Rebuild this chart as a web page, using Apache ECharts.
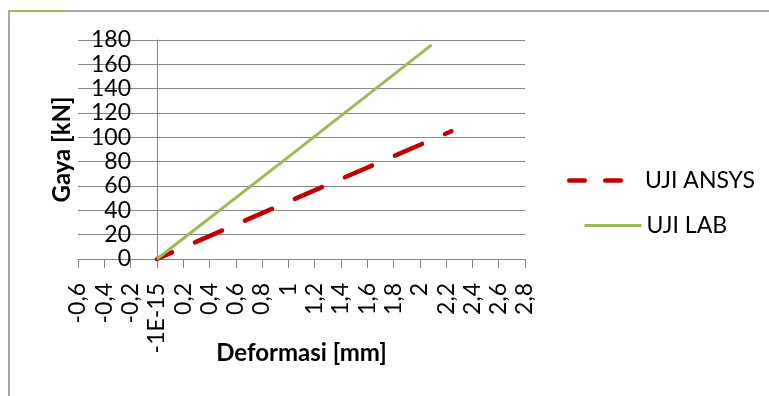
<!DOCTYPE html>
<html>
<head>
<meta charset="utf-8">
<script src="https://cdn.jsdelivr.net/npm/echarts@6/dist/echarts.min.js"></script>
<style>
  html, body { margin: 0; padding: 0; background: #fff; }
  #chart { width: 769px; height: 396px; }
</style>
</head>
<body>
<div id="chart"></div>
<script>
// values
const ansysX = [0, 1.12, 2.24]
const ansysY = [0, 52.7, 105]
const labX = [0, 1.05, 2.09]
const labY = [0, 88, 176]
const xTickLabels = ['-0,6', '-0,4', '-0,2', '-1E-15', '0,2', '0,4', '0,6', '0,8', '1',
  '1,2', '1,4', '1,6', '1,8', '2', '2,2', '2,4', '2,6', '2,8']
const xMin = -0.6
const xStep = 0.2

const font = 'Lato, "Open Sans", sans-serif'
const gray = '#868686'
// two rounded dashes for the ANSYS legend key
const dashIcon = 'path://M2.25,0 L17.75,0 A2.25,2.25 0 0 1 17.75,4.5 L2.25,4.5 A2.25,2.25 0 0 1 2.25,0 Z ' +
  'M38.25,0 L53.75,0 A2.25,2.25 0 0 1 53.75,4.5 L38.25,4.5 A2.25,2.25 0 0 1 38.25,0 Z'

const chart = echarts.init(document.getElementById('chart'), null, { renderer: 'canvas' })

const pairs = (xs, ys) => xs.map((x, i) => [x, ys[i]])

const option = {
  animation: false,
  backgroundColor: '#fff',
  textStyle: { fontFamily: font },
  graphic: [
    {
      type: 'rect',
      shape: { x: 9, y: 11, width: 800, height: 420 },
      style: { fill: 'none', stroke: '#8c8c8c', lineWidth: 1.5 }
    },
    {
      type: 'line',
      shape: { x1: 9, y1: 11, x2: 66, y2: 11 },
      style: { stroke: '#9bbb59', lineWidth: 2 }
    }
  ],
  grid: { left: 78, right: 244, top: 40, bottom: 137, outerBoundsMode: 'none', containLabel: false },
  legend: [
    {
      data: [{ name: 'UJI ANSYS', icon: dashIcon }],
      left: 567,
      top: 169,
      padding: 0,
      itemWidth: 56,
      itemHeight: 4.5,
      itemStyle: { color: '#c00000', borderWidth: 0 },
      textStyle: { fontFamily: font, fontSize: 23, color: '#000', padding: [0, 0, 0, 17] }
    },
    {
      data: ['UJI LAB'],
      left: 583,
      top: 214,
      padding: 0,
      itemWidth: 57,
      itemHeight: 24,
      itemStyle: { opacity: 0 },
      lineStyle: { width: 3 },
      textStyle: { fontFamily: font, fontSize: 23, color: '#000' }
    }
  ],
  xAxis: {
    type: 'value',
    min: xMin,
    max: 2.8,
    interval: xStep,
    name: 'Deformasi [mm]',
    nameLocation: 'middle',
    nameGap: 82,
    nameMoveOverlap: false,
    nameTextStyle: { fontFamily: font, fontSize: 24, fontWeight: 'bold', color: '#000' },
    axisLine: { show: true, lineStyle: { color: gray, width: 1 } },
    axisTick: { show: true, length: 9, lineStyle: { color: gray } },
    splitLine: { show: false },
    axisLabel: {
      rotate: 90,
      margin: 24,
      fontFamily: font,
      fontSize: 23,
      color: '#000',
      showMinLabel: true,
      showMaxLabel: true,
      formatter: v => xTickLabels[Math.round((v - xMin) / xStep)]
    }
  },
  yAxis: {
    type: 'value',
    min: 0,
    max: 180,
    interval: 20,
    name: 'Gaya [kN]',
    nameLocation: 'middle',
    nameGap: 4,
    nameMoveOverlap: false,
    nameTextStyle: { fontFamily: font, fontSize: 24, fontWeight: 'bold', color: '#000' },
    axisLine: { show: true, onZero: true, lineStyle: { color: gray, width: 1 } },
    axisTick: { show: false },
    splitLine: { show: true, lineStyle: { color: gray, width: 1 } },
    axisLabel: { margin: -53, fontFamily: font, fontSize: 23, color: '#000' }
  },
  series: [
    {
      name: 'UJI ANSYS',
      type: 'line',
      data: pairs(ansysX, ansysY),
      symbol: 'none',
      color: '#c00000',
      lineStyle: { color: '#c00000', width: 4.5, type: [29.5, 25], dashOffset: 13, cap: 'round' },
      z: 3
    },
    {
      name: 'UJI LAB',
      type: 'line',
      data: pairs(labX, labY),
      symbol: 'none',
      color: '#9bbb59',
      lineStyle: { color: '#9bbb59', width: 3 },
      z: 4
    }
  ]
}

chart.setOption(option)
</script>
</body>
</html>
